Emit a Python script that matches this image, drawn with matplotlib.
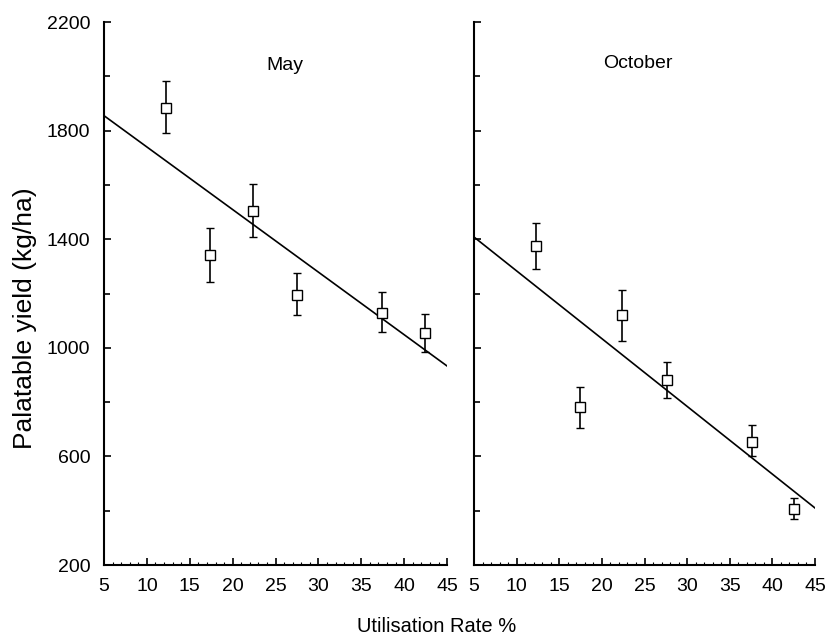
import numpy as np
import matplotlib.pyplot as plt
from matplotlib.ticker import MultipleLocator

plt.rcParams['font.family'] = ['Liberation Sans', 'DejaVu Sans']

# data
may_x = [12.2, 17.3, 22.4, 27.5, 37.4, 42.4]
may_y = [1883, 1342, 1504, 1194, 1128, 1055]
may_lo = [1791, 1242, 1408, 1121, 1058, 985]
may_hi = [1983, 1441, 1603, 1275, 1206, 1125]
may_fit = [1855, 933]

oct_x = [12.3, 17.4, 22.4, 27.6, 37.6, 42.5]
oct_y = [1375, 782, 1121, 881, 653, 406]
oct_lo = [1291, 705, 1025, 815, 601, 369]
oct_hi = [1460, 856, 1213, 948, 716, 447]
oct_fit = [1408, 410]

fit_x = [5, 45]

fig = plt.figure(figsize=(8.27, 6.37), dpi=100)
ax1 = fig.add_axes([0.1258, 0.113, 0.4148, 0.8524])
ax2 = fig.add_axes([0.5732, 0.113, 0.4123, 0.8524])

panels = [
    (ax1, may_x, may_y, may_lo, may_hi, may_fit, 'May', 285, 65),
    (ax2, oct_x, oct_y, oct_lo, oct_hi, oct_fit, 'October', 638, 63),
]

for ax, x, y, lo, hi, fit, title, tx, ty in panels:
    y = np.array(y)
    yerr = [y - np.array(lo), np.array(hi) - y]
    ax.plot(fit_x, fit, color='black', lw=1.2)
    ax.errorbar(x, y, yerr=yerr, fmt='s', mfc='white', mec='black', ms=7,
                mew=1.0, ecolor='black', elinewidth=1.2, capsize=3.2, capthick=1.2,
                zorder=3)
    ax.set_xlim(5, 45)
    ax.set_ylim(200, 2200)
    ax.xaxis.set_major_locator(MultipleLocator(5))
    ax.xaxis.set_minor_locator(MultipleLocator(1))
    ax.set_yticks([200, 600, 1000, 1400, 1800, 2200])
    ax.set_yticks([400, 800, 1200, 1600, 2000], minor=True)
    ax.spines['top'].set_visible(False)
    ax.spines['right'].set_visible(False)
    for s in ['left', 'bottom']:
        ax.spines[s].set_linewidth(1.5)
    ax.tick_params(which='major', direction='in', length=5, width=1.2, labelsize=14)
    ax.tick_params(which='minor', direction='in', length=3, width=0.8)
    ax.tick_params(axis='x', which='minor', length=2.5)
    ax.tick_params(axis='y', which='minor', length=4, width=1.2)
    ax.tick_params(axis='x', pad=9)
    ax.tick_params(axis='y', pad=10)
    fig.text(tx / 827, 1 - ty / 637, title, ha='center', va='center', fontsize=14)

ax2.tick_params(axis='y', labelleft=False)
fig.text(25 / 827, 1 - 318 / 637, 'Palatable yield (kg/ha)', rotation=90,
         ha='center', va='center', fontsize=19)
fig.text(437 / 827, 1 - 627 / 637, 'Utilisation Rate %', ha='center', va='center', fontsize=14.5)

plt.savefig('out.png', dpi=100)
